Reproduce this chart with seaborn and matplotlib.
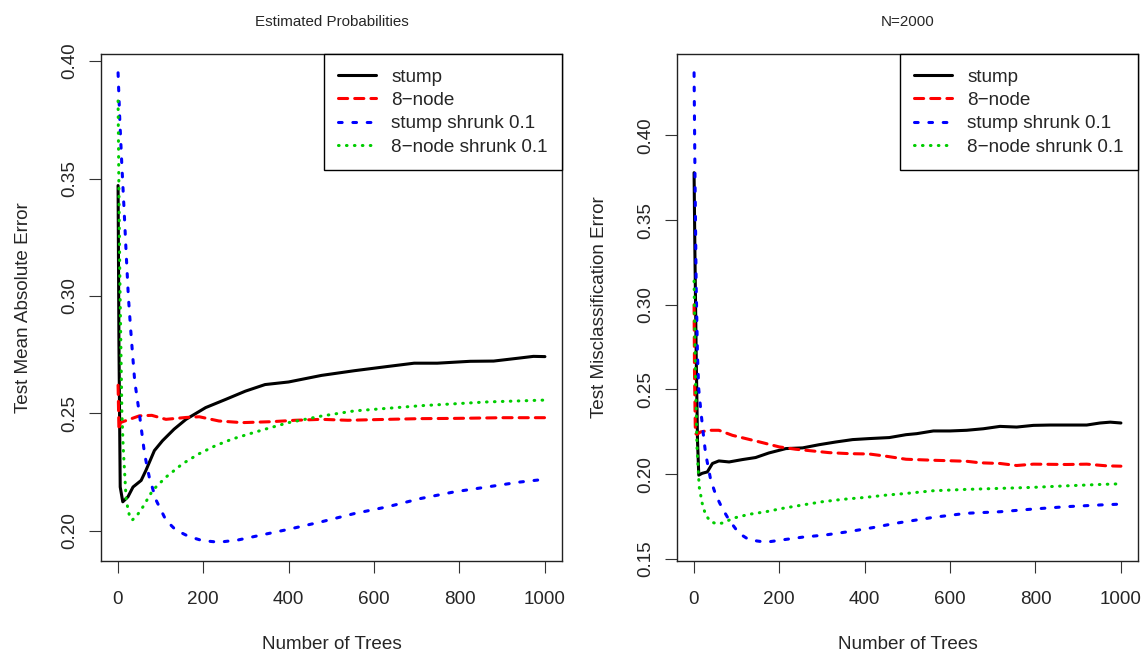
import matplotlib
matplotlib.use('Agg')
import matplotlib.pyplot as plt
import pandas as pd
import seaborn as sns

# ---- data ----
# left panel: Estimated Probabilities (test mean absolute error)
left_stump_x = [1, 3, 6, 12, 24, 36, 55, 66, 86, 105, 132, 160, 206, 253, 299, 345, 400,
                477, 554, 632, 694, 748, 825, 880, 941, 973, 1000]
left_stump_y = [0.347, 0.280, 0.2187, 0.2124, 0.2145, 0.2187, 0.2215, 0.2257, 0.2342, 0.2384,
                0.2433, 0.2475, 0.2525, 0.2560, 0.2595, 0.2623, 0.2634, 0.2662, 0.2682, 0.2700,
                0.2714, 0.2714, 0.2722, 0.2723, 0.2736, 0.2743, 0.2742]

left_node_x = [1, 3, 6, 20, 51, 80, 113, 160, 191, 237, 291, 360, 415, 477, 539, 632, 709,
               787, 903, 1000]
left_node_y = [0.262, 0.243, 0.2461, 0.2470, 0.2490, 0.2492, 0.2475, 0.2483, 0.2486, 0.2468,
               0.2461, 0.2465, 0.2471, 0.2475, 0.2471, 0.2475, 0.2478, 0.2479, 0.2482, 0.2482]

left_stump_shr_x = [1, 5, 10, 15, 20, 25, 30, 35, 40, 51, 63, 74, 90, 113, 136, 167, 198, 237,
                    283, 345, 400, 477, 554, 632, 709, 787, 864, 941, 1000]
left_stump_shr_y = [0.395, 0.375, 0.355, 0.337, 0.318, 0.300, 0.287, 0.275, 0.2637, 0.2497,
                    0.2328, 0.2229, 0.2131, 0.2046, 0.2004, 0.1976, 0.1959, 0.1952, 0.1962,
                    0.1986, 0.2007, 0.2039, 0.2074, 0.2103, 0.2138, 0.2166, 0.2187, 0.2208, 0.2220]

left_node_shr_x = [1, 3, 5, 7, 10, 13, 20, 27, 34, 45, 59, 82, 113, 152, 190, 229, 268, 306,
                   345, 400, 477, 554, 632, 709, 787, 864, 1000]
left_node_shr_y = [0.383, 0.345, 0.310, 0.285, 0.2498, 0.2356, 0.2131, 0.2070, 0.2046, 0.2065,
                   0.2102, 0.2173, 0.2229, 0.2286, 0.2328, 0.2363, 0.2391, 0.2412, 0.2433,
                   0.2461, 0.2489, 0.2511, 0.2522, 0.2533, 0.2541, 0.2549, 0.2557]

# right panel: N=2000 (test misclassification error)
right_stump_x = [1, 3, 6, 9, 12, 20, 32, 44, 59, 83, 114, 145, 176, 216, 255, 294, 333, 372,
                 411, 458, 497, 522, 561, 600, 639, 678, 717, 756, 795, 834, 873, 920, 951,
                 975, 1000]
right_stump_y = [0.378, 0.330, 0.270, 0.220, 0.1994, 0.2005, 0.2013, 0.2063, 0.2078, 0.2072,
                 0.2086, 0.2098, 0.2125, 0.2151, 0.2155, 0.2174, 0.2190, 0.2204, 0.2210,
                 0.2216, 0.2233, 0.2239, 0.2255, 0.2255, 0.2259, 0.2268, 0.2282, 0.2278,
                 0.2288, 0.2290, 0.2290, 0.2290, 0.2302, 0.2307, 0.2302]

right_node_x = [1, 2, 4, 8, 16, 36, 59, 91, 122, 161, 200, 239, 278, 317, 364, 411, 450, 497,
                561, 639, 670, 717, 756, 795, 873, 920, 967, 1000]
right_node_y = [0.300, 0.260, 0.2239, 0.2235, 0.2249, 0.2259, 0.2259, 0.2229, 0.2210, 0.2186,
                0.2161, 0.2147, 0.2137, 0.2127, 0.2121, 0.2119, 0.2106, 0.2088, 0.2082,
                0.2076, 0.2067, 0.2063, 0.2051, 0.2059, 0.2057, 0.2059, 0.2049, 0.2047]

right_stump_shr_x = [1, 3, 6, 9, 12, 16, 22, 28, 40, 52, 67, 83, 106, 130, 169, 208, 255, 309,
                     364, 419, 473, 561, 639, 717, 795, 873, 951, 1000]
right_stump_shr_y = [0.437, 0.380, 0.310, 0.270, 0.250, 0.2396, 0.225, 0.2121, 0.1965, 0.1876,
                     0.1798, 0.1729, 0.1651, 0.1612, 0.1598, 0.1612, 0.1628, 0.1641, 0.1661,
                     0.1684, 0.1710, 0.1745, 0.1769, 0.1778, 0.1794, 0.1808, 0.1818, 0.1823]

right_node_shr_x = [1, 4, 8, 13, 20, 28, 40, 55, 71, 91, 130, 169, 208, 255, 301, 348, 403,
                    450, 497, 561, 639, 717, 795, 873, 951, 1000]
right_node_shr_y = [0.314, 0.260, 0.215, 0.1925, 0.1828, 0.1759, 0.1719, 0.1706, 0.1713,
                    0.1739, 0.1763, 0.1778, 0.1798, 0.1818, 0.1837, 0.1851, 0.1863, 0.1876,
                    0.1886, 0.1902, 0.1910, 0.1916, 0.1922, 0.1931, 0.1939, 0.1943]

series_names = ['stump', '8\u2212node', 'stump shrunk 0.1', '8\u2212node shrunk 0.1']
series_colors = ['#000000', '#FF0000', '#0000FF', '#00CD00']

left_yticks = [0.20, 0.25, 0.30, 0.35, 0.40]
right_yticks = [0.15, 0.20, 0.25, 0.30, 0.35, 0.40]
xticks = [0, 200, 400, 600, 800, 1000]

# line styles (dash lengths in linewidth units, round caps like R)
series_styles = ['-', (0, (3.0, 2.3)), (0, (1.2, 3.5)), (0, (0.2, 2.4))]

sns.set_style('white')
plt.rcParams['font.family'] = ['Liberation Sans', 'DejaVu Sans']

fig = plt.figure(figsize=(11.45, 6.52), dpi=100)
ax_left = fig.add_axes([101 / 1145, 91 / 652, 461 / 1145, 507 / 652])
ax_right = fig.add_axes([677 / 1145, 91 / 652, 461 / 1145, 507 / 652])


def draw_panel(ax, xs, ys, title, ylabel, yticks):
    for x, y, name, color, ls in zip(xs, ys, series_names, series_colors, series_styles):
        df = pd.DataFrame({'trees': x, 'error': y})
        sns.lineplot(data=df, x='trees', y='error', ax=ax, color=color, linewidth=2.2,
                     linestyle=ls, label=name, dash_capstyle='round',
                     solid_capstyle='round')

    ax.margins(x=0.04, y=0.04)
    ax.set_xticks(xticks)
    ax.set_yticks(yticks)
    ax.set_yticklabels([f'{t:.2f}' for t in yticks])
    ax.tick_params(axis='both', direction='out', length=8.3, width=0.8, color='#333333',
                   labelsize=13.6, bottom=True, left=True)
    ax.tick_params(axis='x', pad=13)
    ax.tick_params(axis='y', pad=8, labelrotation=90)
    for lbl in ax.get_yticklabels():
        lbl.set_va('center')

    for sp in ax.spines.values():
        sp.set_visible(True)
        sp.set_color('#222222')
        sp.set_linewidth(1.0)

    ax.set_xlabel('Number of Trees', fontsize=13.6)
    ax.set_ylabel(ylabel, fontsize=13.6)
    ax.xaxis.set_label_coords(0.5, -0.147)
    ax.yaxis.set_label_coords(-0.150, 0.5)
    ax.set_title(title, fontsize=10.9, y=1.064, pad=0, va='center')

    leg = ax.legend(loc='upper right', fontsize=13.6, frameon=True, fancybox=False,
                    framealpha=1, edgecolor='black', borderaxespad=0, borderpad=0.76,
                    labelspacing=0.33, handlelength=2.0, handletextpad=0.8)
    leg.get_frame().set_linewidth(1.0)


draw_panel(ax_left,
           [left_stump_x, left_node_x, left_stump_shr_x, left_node_shr_x],
           [left_stump_y, left_node_y, left_stump_shr_y, left_node_shr_y],
           'Estimated Probabilities', 'Test Mean Absolute Error', left_yticks)

draw_panel(ax_right,
           [right_stump_x, right_node_x, right_stump_shr_x, right_node_shr_x],
           [right_stump_y, right_node_y, right_stump_shr_y, right_node_shr_y],
           'N=2000', 'Test Misclassification Error', right_yticks)

plt.savefig('out.png', dpi=100)
plt.close()
